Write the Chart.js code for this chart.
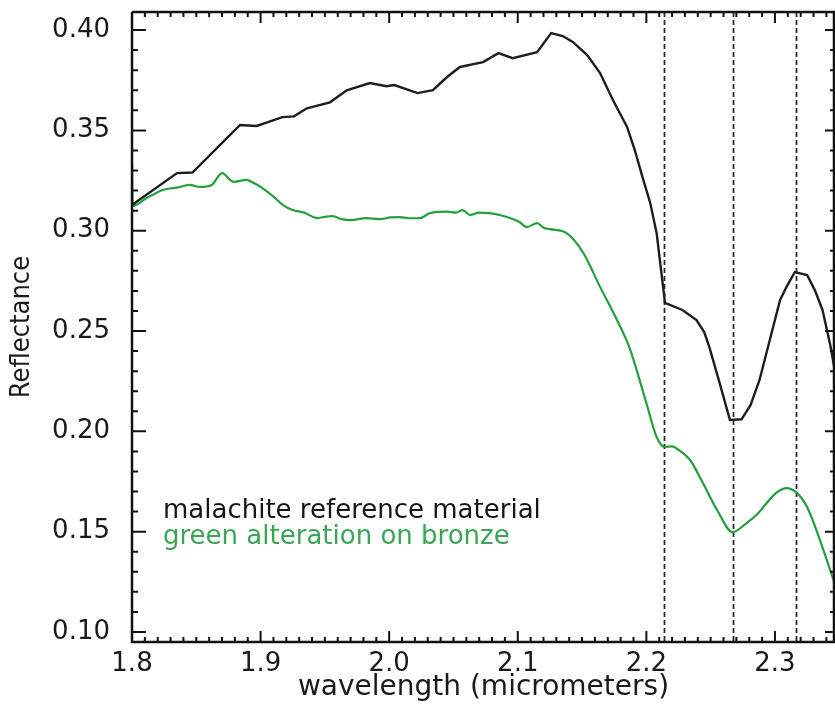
<!DOCTYPE html>
<html>
<head>
<meta charset="utf-8">
<script src="https://cdn.jsdelivr.net/npm/chart.js@4/dist/chart.umd.min.js"></script>
<style>
  html, body { margin: 0; padding: 0; background: #fff; overflow: hidden; }
  canvas { display: block; }
</style>
</head>
<body>
<canvas id="spectra" width="835" height="708"></canvas>
<script>
// malachite reference spectrum (black)
const malachiteWl = [1.800, 1.835, 1.847, 1.884, 1.897, 1.917, 1.926, 1.936, 1.954, 1.967,
  1.985, 1.998, 2.004, 2.022, 2.034, 2.045, 2.055, 2.073, 2.085, 2.096,
  2.115, 2.126, 2.135, 2.143, 2.154, 2.164, 2.174, 2.185, 2.191, 2.197,
  2.203, 2.208, 2.2145, 2.228, 2.239, 2.245, 2.249, 2.257, 2.265, 2.274,
  2.281, 2.288, 2.296, 2.304, 2.309, 2.3155, 2.325, 2.331, 2.337, 2.343,
  2.3465];
const malachiteRefl = [0.3128, 0.3287, 0.3290, 0.3527, 0.3522, 0.3566, 0.3570, 0.3610, 0.3640, 0.3700,
  0.3736, 0.3720, 0.3726, 0.3686, 0.3700, 0.3766, 0.3816, 0.3840, 0.3885, 0.3860,
  0.3890, 0.3985, 0.3970, 0.3940, 0.3875, 0.3786, 0.3651, 0.3517, 0.3402, 0.3267,
  0.3138, 0.2988, 0.2640, 0.2605, 0.2555, 0.2495, 0.2420, 0.2240, 0.2057, 0.2060,
  0.2130, 0.2256, 0.2455, 0.2655, 0.2720, 0.2794, 0.2779, 0.2704, 0.2605, 0.2430,
  0.2306];

// green alteration on bronze (green)
const bronzeWl = [1.800, 1.8005, 1.812, 1.824, 1.835, 1.845, 1.853, 1.862, 1.870, 1.879,
  1.889, 1.894, 1.900, 1.910, 1.918, 1.925, 1.934, 1.944, 1.951, 1.956,
  1.963, 1.970, 1.982, 1.993, 2.001, 2.008, 2.016, 2.024, 2.032, 2.045,
  2.052, 2.057, 2.063, 2.070, 2.078, 2.086, 2.094, 2.101, 2.107, 2.115,
  2.120, 2.125, 2.138, 2.151, 2.164, 2.176, 2.187, 2.200, 2.208, 2.2145,
  2.220, 2.224, 2.234, 2.244, 2.255, 2.267, 2.278, 2.286, 2.291, 2.301,
  2.309, 2.317, 2.325, 2.335, 2.3465];
const bronzeRefl = [0.3330, 0.3123, 0.3165, 0.3203, 0.3215, 0.3228, 0.3218, 0.3228, 0.3287, 0.3243,
  0.3253, 0.3240, 0.3218, 0.3170, 0.3125, 0.3103, 0.3090, 0.3063, 0.3070, 0.3073,
  0.3058, 0.3053, 0.3063, 0.3058, 0.3066, 0.3068, 0.3062, 0.3063, 0.3088, 0.3095,
  0.3090, 0.3103, 0.3078, 0.3090, 0.3088, 0.3078, 0.3063, 0.3045, 0.3018, 0.3038,
  0.3015, 0.3008, 0.2988, 0.2889, 0.2720, 0.2570, 0.2415, 0.2141, 0.1972, 0.1922,
  0.1925, 0.1912, 0.1857, 0.1742, 0.1608, 0.1498, 0.1543, 0.1585, 0.1623, 0.1693,
  0.1717, 0.1693, 0.1623, 0.1458, 0.1240];

// absorption band positions (dashed lines)
const bandCenters = [2.214, 2.267, 2.316];

const xRange = [1.8, 2.3467];
const yRange = [0.095, 0.409];

const toPoints = (xs, ys) => xs.map((v, i) => ({ x: v, y: ys[i] }));

const labelColors = ["#161616", "#3aa655"];

// dashed lines, frame, inward ticks and in-plot labels
const decorations = {
  id: "decorations",
  beforeDatasetsDraw(chart) {
    const { ctx, chartArea: a, scales: { x } } = chart;
    ctx.save();
    ctx.setLineDash([5, 3]);
    ctx.strokeStyle = "#2b2b2b";
    ctx.lineWidth = 1.8;
    bandCenters.forEach((v) => {
      const px = Math.round(x.getPixelForValue(v)) + 0.5;
      ctx.beginPath();
      ctx.moveTo(px, a.top);
      ctx.lineTo(px, a.bottom);
      ctx.stroke();
    });
    ctx.restore();
  },
  afterDraw(chart) {
    const { ctx, chartArea: a, scales: { x, y } } = chart;
    ctx.save();
    ctx.strokeStyle = "#111";
    ctx.lineWidth = 2.5;
    ctx.beginPath();
    ctx.moveTo(a.left, a.top);
    ctx.lineTo(a.right, a.top);
    ctx.moveTo(a.left, a.top);
    ctx.lineTo(a.left, a.bottom);
    ctx.lineTo(a.right, a.bottom);
    ctx.moveTo(a.right - 1, a.top);
    ctx.lineTo(a.right - 1, a.bottom);
    ctx.stroke();

    ctx.lineWidth = 2;
    // x ticks every 0.01, major every 0.1
    for (let i = 0; i <= 54; i++) {
      const px = x.getPixelForValue(1.8 + i * 0.01);
      const major = i % 10 === 0;
      const len = major ? 11 : 5;
      ctx.beginPath();
      ctx.moveTo(px, a.bottom);
      ctx.lineTo(px, a.bottom - len);
      ctx.moveTo(px, a.top);
      ctx.lineTo(px, a.top + len);
      ctx.stroke();
    }
    // y ticks every 0.01, major every 0.05
    for (let i = 0; i <= 30; i++) {
      const py = y.getPixelForValue(0.1 + i * 0.01);
      const major = i % 5 === 0;
      ctx.beginPath();
      ctx.moveTo(a.left, py);
      ctx.lineTo(a.left + (major ? 14 : 6), py);
      ctx.moveTo(a.right, py);
      ctx.lineTo(a.right - (major ? 10 : 5), py);
      ctx.stroke();
    }

    // labels inside plot
    ctx.font = "26px 'DejaVu Sans', sans-serif";
    ctx.textAlign = "left";
    ctx.textBaseline = "alphabetic";
    chart.data.datasets.forEach((ds, i) => {
      ctx.fillStyle = labelColors[i];
      ctx.fillText(ds.label, a.left + 31, 518 + i * 26);
    });
    ctx.restore();
  },
};

new Chart(document.getElementById("spectra"), {
  type: "line",
  data: {
    datasets: [
      {
        label: "malachite reference material",
        data: toPoints(malachiteWl, malachiteRefl),
        borderColor: "#1e1e1e",
        borderWidth: 2.4,
        pointRadius: 0,
        tension: 0,
      },
      {
        label: "green alteration on bronze",
        data: toPoints(bronzeWl, bronzeRefl),
        borderColor: "#22a03c",
        borderWidth: 2.2,
        pointRadius: 0,
        cubicInterpolationMode: "monotone",
      },
    ],
  },
  options: {
    responsive: false,
    animation: false,
    layout: { padding: { top: 12, left: 0, right: 0, bottom: 0 } },
    plugins: {
      legend: { display: false },
      tooltip: { enabled: false },
    },
    scales: {
      x: {
        type: "linear",
        min: xRange[0],
        max: xRange[1],
        afterFit: (s) => { s.height = 66; s.paddingLeft = 0; s.paddingRight = 0; },
        grid: { display: false },
        border: { display: false },
        ticks: {
          stepSize: 0.1,
          includeBounds: false,
          autoSkip: false,
          maxRotation: 0,
          padding: -1,
          color: "#1a1a1a",
          font: { family: "'DejaVu Sans', sans-serif", size: 26 },
          callback: (v) => v.toFixed(1),
        },
        title: {
          display: true,
          text: "wavelength (micrometers)",
          color: "#1a1a1a",
          font: { family: "'DejaVu Sans', sans-serif", size: 28 },
          padding: { top: 0, bottom: 3 },
        },
      },
      y: {
        type: "linear",
        min: yRange[0],
        max: yRange[1],
        afterFit: (s) => { s.width = 132; s.paddingTop = 0; s.paddingBottom = 0; },
        grid: { display: false },
        border: { display: false },
        ticks: {
          stepSize: 0.05,
          includeBounds: false,
          padding: 14,
          color: "#1a1a1a",
          font: { family: "'DejaVu Sans', sans-serif", size: 26 },
          callback: (v) => v.toFixed(2),
        },
        title: {
          display: true,
          text: "Reflectance",
          color: "#1a1a1a",
          font: { family: "'DejaVu Sans Condensed', 'Liberation Sans Narrow', 'DejaVu Sans', sans-serif", size: 27 },
          padding: { top: 6, bottom: 0 },
        },
      },
    },
  },
  plugins: [decorations],
});
</script>
</body>
</html>
